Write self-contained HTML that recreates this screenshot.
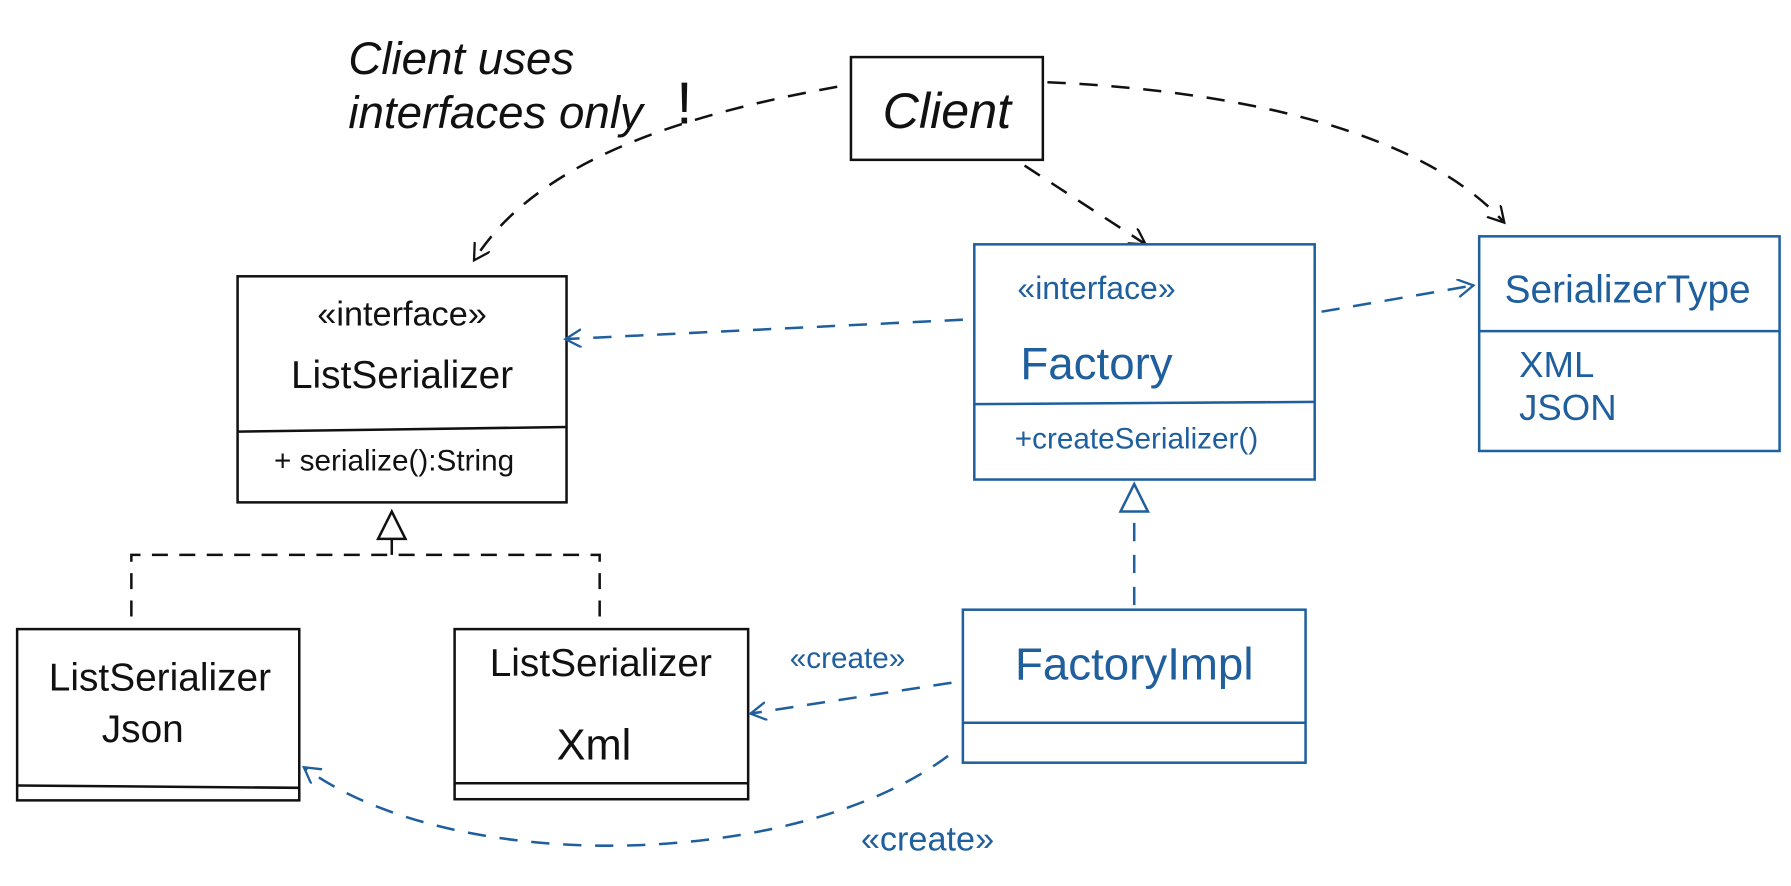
<!DOCTYPE html>
<html><head><meta charset="utf-8"><style>
html,body{margin:0;padding:0;background:#fff;}
svg{display:block;}
text{font-family:"Liberation Sans",sans-serif;}
</style></head><body>
<svg width="1791" height="886" viewBox="0 0 1568 776" preserveAspectRatio="none" xmlns="http://www.w3.org/2000/svg">
<defs>
<marker id="ak" markerWidth="20" markerHeight="20" refX="14" refY="8" orient="auto" markerUnits="userSpaceOnUse"><path d="M0,0 L14,8 L0,16" fill="none" stroke="#111" stroke-width="2"/></marker>
<marker id="ab" markerWidth="20" markerHeight="20" refX="14" refY="8" orient="auto" markerUnits="userSpaceOnUse"><path d="M0,0 L14,8 L0,16" fill="none" stroke="#1f5f9e" stroke-width="2"/></marker>
</defs>
<g fill="none" stroke="#111" stroke-width="2.2">
<rect x="745" y="50" width="168" height="90"/>
<rect x="208" y="242" width="288" height="198"/>
<line x1="208" y1="378" x2="496" y2="374"/>
<rect x="15" y="551" width="247" height="150"/>
<line x1="15" y1="688" x2="262" y2="690"/>
<rect x="398" y="551" width="257" height="149"/>
<line x1="398" y1="686" x2="655" y2="686"/>
<path d="M115,540 V486 H525 V540" stroke-dasharray="14,10"/>
<path d="M343,486 V472"/>
<path d="M331,472 L343,448 L355,472 Z"/>
<path d="M733,76 C600,100 470,140 415,228" stroke-dasharray="16,12" marker-end="url(#ak)"/>
<path d="M897,145 L1003,214" stroke-dasharray="16,12" marker-end="url(#ak)"/>
<path d="M917,72 C1100,80 1250,120 1317,195" stroke-dasharray="16,12" marker-end="url(#ak)"/>
</g>
<g fill="none" stroke="#1f5f9e" stroke-width="2.2">
<rect x="853" y="214" width="298" height="206"/>
<line x1="853" y1="354" x2="1151" y2="352"/>
<rect x="1295" y="207" width="263" height="188"/>
<line x1="1295" y1="290" x2="1558" y2="290"/>
<rect x="843" y="534" width="300" height="134"/>
<line x1="843" y1="633" x2="1143" y2="633"/>
<path d="M843,280 L495,297" stroke-dasharray="16,12" marker-end="url(#ab)"/>
<path d="M1157,273 L1290,250" stroke-dasharray="16,12" marker-end="url(#ab)"/>
<path d="M993,530 V448" stroke-dasharray="16,12"/>
<path d="M981,448 L993,424 L1005,448 Z"/>
<path d="M833,598 L657,625" stroke-dasharray="16,12" marker-end="url(#ab)"/>
<path d="M830,662 C700,760 400,770 266,672" stroke-dasharray="16,12" marker-end="url(#ab)"/>
</g>
<g fill="#111" font-size="34">
<text x="305" y="65" font-size="40" font-style="italic">Client uses</text>
<text x="305" y="112" font-size="40" font-style="italic">interfaces only</text>
<text x="592" y="108" font-size="52">!</text>
<text x="829" y="112" font-size="44" text-anchor="middle" font-style="italic">Client</text>
<text x="352" y="285" text-anchor="middle" font-size="30">«interface»</text>
<text x="352" y="340" text-anchor="middle">ListSerializer</text>
<text x="345" y="412" text-anchor="middle" font-size="26">+ serialize():String</text>
<text x="140" y="605" text-anchor="middle">ListSerializer</text>
<text x="125" y="650" text-anchor="middle">Json</text>
<text x="526" y="592" text-anchor="middle">ListSerializer</text>
<text x="520" y="665" text-anchor="middle" font-size="38">Xml</text>
</g>
<g fill="#1f5f9e" font-size="34">
<text x="960" y="262" text-anchor="middle" font-size="28">«interface»</text>
<text x="960" y="332" text-anchor="middle" font-size="40">Factory</text>
<text x="995" y="393" text-anchor="middle" font-size="26">+createSerializer()</text>
<text x="1425" y="265" text-anchor="middle">SerializerType</text>
<text x="1330" y="330" font-size="32">XML</text>
<text x="1330" y="368" font-size="32">JSON</text>
<text x="993" y="595" text-anchor="middle" font-size="40">FactoryImpl</text>
<text x="742" y="585" text-anchor="middle" font-size="26">«create»</text>
<text x="812" y="745" text-anchor="middle" font-size="30">«create»</text>
</g>
</svg>
</body></html>
